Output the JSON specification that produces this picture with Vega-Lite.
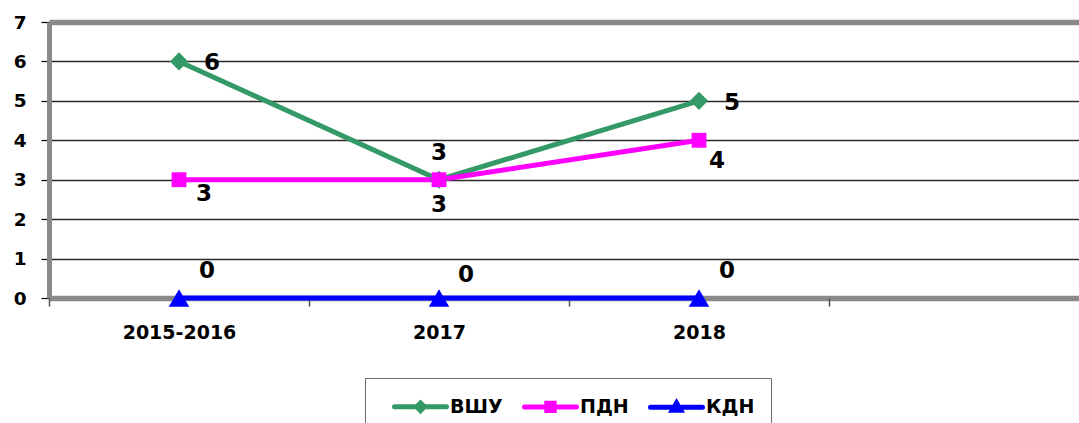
{
  "$schema": "https://vega.github.io/schema/vega-lite/v6.json",
  "width": 1040,
  "height": 276,
  "autosize": {"type": "none"},
  "padding": {"left": 49, "top": 22, "right": -10, "bottom": 125},
  "background": "white",
  "config": {"view": {"stroke": null}, "font": "DejaVu Sans"},
  "data": {"values": [
    {"period": "2015-2016", "series": "ВШУ", "value": 6},
    {"period": "2017", "series": "ВШУ", "value": 3},
    {"period": "2018", "series": "ВШУ", "value": 5},
    {"period": "2015-2016", "series": "ПДН", "value": 3},
    {"period": "2017", "series": "ПДН", "value": 3},
    {"period": "2018", "series": "ПДН", "value": 4},
    {"period": "2015-2016", "series": "КДН", "value": 0},
    {"period": "2017", "series": "КДН", "value": 0},
    {"period": "2018", "series": "КДН", "value": 0}
  ]},
  "encoding": {
    "x": {
      "field": "period", "type": "nominal", "bandPosition": 0.5, "sort": null,
      "scale": {"type": "band", "domain": ["2015-2016", "2017", "2018", " "], "paddingInner": 0, "paddingOuter": 0},
      "axis": {"title": null, "tickBand": "extent", "domain": false, "grid": false, "ticks": true, "tickColor": "#555555", "tickSize": 8, "tickWidth": 1.5, "labelFont": "DejaVu Sans", "labelFontWeight": "bold", "labelFontSize": 19, "labelColor": "black", "labelPadding": 17, "labelAngle": 0}
    },
    "y": {
      "field": "value", "type": "quantitative",
      "scale": {"domain": [0, 7], "nice": false},
      "axis": {"title": null, "values": [0, 1, 2, 3, 4, 5, 6, 7], "grid": true,
        "gridColor": {"condition": {"test": "datum.value === 7 || datum.value === 0", "value": "#8a8a8a"}, "value": "#2b2b2b"},
        "gridWidth": {"condition": {"test": "datum.value === 7 || datum.value === 0", "value": 5.5}, "value": 1.5},
        "domainColor": "#8a8a8a", "domainWidth": 5, "tickColor": "black", "tickSize": 8, "tickWidth": 1.2,
        "labelFont": "DejaVu Sans", "labelFontSize": 18.5, "labelFontWeight": "bold", "labelColor": "black", "labelPadding": 15}
    }
  },
  "layer": [
    {"transform": [{"filter": "datum.series === 'ВШУ'"}], "mark": {"type": "line", "color": "#339966", "strokeWidth": 5}},
    {"transform": [{"filter": "datum.series === 'ПДН'"}], "mark": {"type": "line", "color": "#ff00ff", "strokeWidth": 5}},
    {"transform": [{"filter": "datum.series === 'КДН'"}], "mark": {"type": "line", "color": "#0000ff", "strokeWidth": 5}},
    {"transform": [{"filter": "datum.series === 'ВШУ'"}], "mark": {"type": "point", "shape": "diamond", "filled": true, "opacity": 1, "color": "#339966", "size": 330}},
    {"transform": [{"filter": "datum.series === 'ПДН'"}], "mark": {"type": "point", "shape": "square", "filled": true, "opacity": 1, "color": "#ff00ff", "size": 220}},
    {"transform": [{"filter": "datum.series === 'КДН'"}], "mark": {"type": "point", "shape": "triangle-up", "filled": true, "opacity": 1, "color": "#0000ff", "size": 420}},
    {"transform": [{"filter": "datum.series === 'ВШУ' && datum.period !== '2017'"}], "mark": {"type": "text", "font": "DejaVu Sans", "fontWeight": "bold", "fontSize": 23, "color": "black", "align": "center", "baseline": "middle", "dx": 33, "dy": 2}, "encoding": {"text": {"field": "value"}}},
    {"transform": [{"filter": "datum.series === 'ВШУ' && datum.period === '2017'"}], "mark": {"type": "text", "font": "DejaVu Sans", "fontWeight": "bold", "fontSize": 23, "color": "black", "align": "center", "baseline": "middle", "dx": 0, "dy": -27}, "encoding": {"text": {"field": "value"}}},
    {"transform": [{"filter": "datum.series === 'ПДН' && datum.period === '2015-2016'"}], "mark": {"type": "text", "font": "DejaVu Sans", "fontWeight": "bold", "fontSize": 23, "color": "black", "align": "center", "baseline": "middle", "dx": 25, "dy": 14}, "encoding": {"text": {"field": "value"}}},
    {"transform": [{"filter": "datum.series === 'ПДН' && datum.period === '2017'"}], "mark": {"type": "text", "font": "DejaVu Sans", "fontWeight": "bold", "fontSize": 23, "color": "black", "align": "center", "baseline": "middle", "dx": 0, "dy": 25}, "encoding": {"text": {"field": "value"}}},
    {"transform": [{"filter": "datum.series === 'ПДН' && datum.period === '2018'"}], "mark": {"type": "text", "font": "DejaVu Sans", "fontWeight": "bold", "fontSize": 23, "color": "black", "align": "center", "baseline": "middle", "dx": 18, "dy": 21}, "encoding": {"text": {"field": "value"}}},
    {"transform": [{"filter": "datum.series === 'КДН' && datum.period !== '2017'"}], "mark": {"type": "text", "font": "DejaVu Sans", "fontWeight": "bold", "fontSize": 23, "color": "black", "align": "center", "baseline": "middle", "dx": 28, "dy": -27}, "encoding": {"text": {"field": "value"}}},
    {"transform": [{"filter": "datum.series === 'КДН' && datum.period === '2017'"}], "mark": {"type": "text", "font": "DejaVu Sans", "fontWeight": "bold", "fontSize": 23, "color": "black", "align": "center", "baseline": "middle", "dx": 27, "dy": -23}, "encoding": {"text": {"field": "value"}}},
    {
      "transform": [{"filter": "false"}],
      "mark": {"type": "point", "filled": true},
      "encoding": {
        "color": {"field": "series", "type": "nominal",
          "scale": {"domain": ["ВШУ", "ПДН", "КДН"], "range": ["#339966", "#ff00ff", "#0000ff"]},
          "legend": {"orient": "none", "legendX": 316, "legendY": 356, "direction": "horizontal", "title": null,
            "padding": 16, "fillColor": "white", "strokeColor": "#6b6b6b",
            "symbolSize": 400, "labelOffset": 44, "columnPadding": 8,
            "labelFont": "DejaVu Sans", "labelFontSize": 19, "labelFontWeight": "bold", "labelColor": "black",
            "symbolStrokeWidth": 5, "symbolOpacity": 1,
            "encode": {"symbols": {"update": {"stroke": {"scale": "color", "field": "value"}, "strokeWidth": {"value": 5}, "strokeCap": {"value": "round"}, "opacity": {"value": 1}}}}}
        },
        "shape": {"field": "series", "type": "nominal",
          "scale": {"domain": ["ВШУ", "ПДН", "КДН"], "range": [
            "M0.1,0H5.3M2.7,-0.38L3.08,0L2.7,0.38L2.32,0Z",
            "M0.1,0H5.3M2.33,-0.37H3.07V0.37H2.33Z",
            "M0.1,0H5.3M2.7,-0.42L3.12,0.3H2.28Z"
          ]}
        }
      }
    }
  ]
}
